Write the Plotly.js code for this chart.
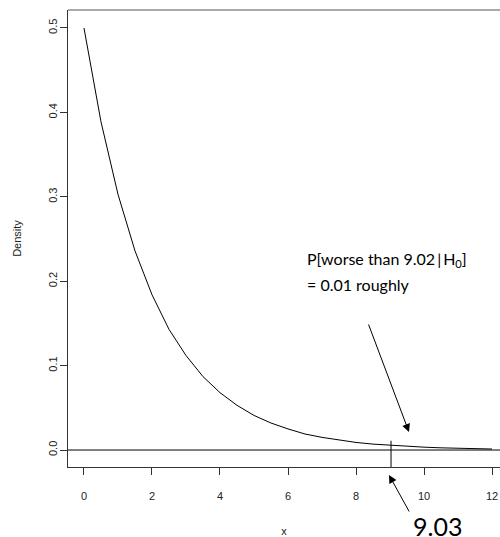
<!DOCTYPE html>
<html>
<head>
<meta charset="utf-8">
<script src="https://cdn.plot.ly/plotly-3.0.1.min.js"></script>
<style>html,body{margin:0;padding:0;background:#fff;}#chart{width:500px;height:537px;}</style>
</head>
<body>
<div id="chart"></div>
<script>
// Density curve
var xValues = [0, 0.5, 1, 1.5, 2, 2.5, 3, 3.5, 4, 4.5, 5, 5.5, 6, 6.5, 7, 7.5, 8, 8.5, 9, 9.5, 10, 10.5, 11, 11.5, 12];
var densityValues = [0.5, 0.389, 0.303, 0.236, 0.184, 0.143, 0.112, 0.087, 0.068, 0.053, 0.041, 0.032, 0.025, 0.019, 0.015, 0.012, 0.009, 0.007, 0.0056, 0.0043, 0.0034, 0.0026, 0.002, 0.0016, 0.0012];
var xTicks = [0, 2, 4, 6, 8, 10, 12];
var yTicks = [0.0, 0.1, 0.2, 0.3, 0.4, 0.5];
var yTickLabels = ["0.0", "0.1", "0.2", "0.3", "0.4", "0.5"];
var observedValue = 9.03;
var labelLine1 = "P[worse than 9.02\u2009|\u2009H<sub>0</sub>]";
var labelLine2 = "= 0.01 roughly";

var trace = {
  x: xValues, y: densityValues, type: 'scatter', mode: 'lines',
  line: {color: '#000', width: 1}, hoverinfo: 'none', cliponaxis: false
};

var W = 500, H = 537, L = 68, T = 10, B = 70;
var pw = W - L, ph = H - T - B;
function px(xp) { return (xp - L) / pw; }
function py(yp) { return (H - B - yp) / ph; }

var tickFont = {family: 'Liberation Sans, Arial, sans-serif', size: 11, color: '#222'};
var textFont = {family: 'Lato, Open Sans, sans-serif', size: 16, color: '#000'};
var layout = {
  width: W, height: H,
  margin: {l: L, r: 0, t: T, b: B},
  paper_bgcolor: '#fff', plot_bgcolor: '#fff',
  showlegend: false,
  xaxis: {
    range: [-0.47, 12.235], tickvals: xTicks, ticktext: xTicks.map(String),
    ticks: 'outside', ticklen: 7, tickcolor: '#333', tickwidth: 1,
    showline: true, linecolor: '#333', linewidth: 1,
    showgrid: false, zeroline: false, tickfont: tickFont, ticklabelstandoff: 12,
    title: {text: 'x', font: tickFont, standoff: 26}
  },
  yaxis: {
    range: [-0.0201, 0.5213], tickvals: yTicks, ticktext: yTickLabels,
    ticks: 'outside', ticklen: 7, tickcolor: '#333', tickwidth: 1,
    showline: true, linecolor: '#333', linewidth: 1, tickangle: -90,
    showgrid: false, zeroline: false, tickfont: tickFont, ticklabelstandoff: -1,
    title: {text: 'Density', font: tickFont, standoff: 22}
  },
  shapes: [
    {type: 'line', xref: 'paper', yref: 'paper', x0: 0, x1: 1, y0: 1, y1: 1, line: {color: '#555', width: 1}},
    {type: 'line', xref: 'paper', yref: 'y', x0: 0, x1: 1, y0: 0, y1: 0, line: {color: '#000', width: 1}},
    {type: 'line', xref: 'x', yref: 'y', x0: observedValue, x1: observedValue, y0: -0.0201, y1: 0.011, line: {color: '#000', width: 1}}
  ],
  annotations: [
    {xref: 'paper', yref: 'paper', x: px(409), y: py(432), ax: 368 - 409, ay: 323 - 432,
     showarrow: true, arrowhead: 2, arrowsize: 1.6, arrowwidth: 1, arrowcolor: '#000', text: ''},
    {xref: 'paper', yref: 'paper', x: px(389), y: py(475), ax: 410 - 389, ay: 513 - 475,
     showarrow: true, arrowhead: 2, arrowsize: 1.6, arrowwidth: 1, arrowcolor: '#000', text: ''},
    {xref: 'paper', yref: 'paper', x: px(305), y: py(259), xanchor: 'left', yanchor: 'middle',
     showarrow: false, align: 'left', text: labelLine1, font: textFont},
    {xref: 'paper', yref: 'paper', x: px(305), y: py(284), xanchor: 'left', yanchor: 'middle',
     showarrow: false, align: 'left', text: labelLine2, font: textFont},
    {xref: 'paper', yref: 'paper', x: px(437), y: py(526), xanchor: 'center', yanchor: 'middle',
     showarrow: false, text: String(observedValue),
     font: {family: 'Lato, Open Sans, sans-serif', size: 25, color: '#000'}}
  ]
};

Plotly.newPlot('chart', [trace], layout, {staticPlot: true, displayModeBar: false});
</script>
</body>
</html>
